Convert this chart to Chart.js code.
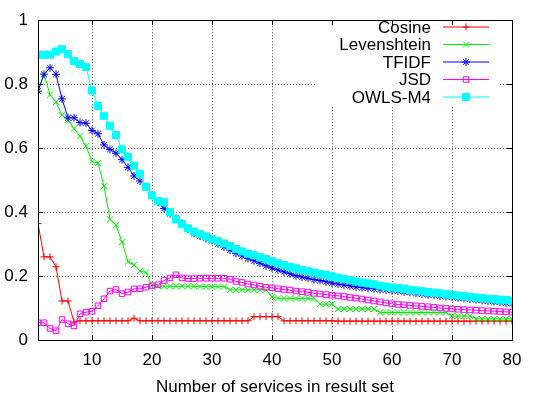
<!DOCTYPE html>
<html><head><meta charset="utf-8">
<script src="https://cdn.jsdelivr.net/npm/chart.js@4/dist/chart.umd.min.js"></script>
<style>html,body{margin:0;padding:0;background:#fff;overflow:hidden}</style>
</head><body>
<canvas id="c" width="537" height="398"></canvas>
<script>
// ---- data ----
const resultSetSizes = [1,2,3,4,5,6,7,8,9,10,11,12,13,14,15,16,17,18,19,20,
  21,22,23,24,25,26,27,28,29,30,31,32,33,34,35,36,37,38,39,40,
  41,42,43,44,45,46,47,48,49,50,51,52,53,54,55,56,57,58,59,60,
  61,62,63,64,65,66,67,68,69,70,71,72,73,74,75,76,77,78,79,80];

const cosine = [0.364,0.26,0.26,0.229,0.122,0.122,0.056,0.06,0.06,0.06,
  0.06,0.06,0.06,0.06,0.06,0.06,0.068,0.06,0.06,0.06,
  0.06,0.06,0.06,0.06,0.06,0.06,0.06,0.06,0.06,0.06,
  0.06,0.06,0.06,0.06,0.06,0.06,0.073,0.073,0.073,0.073,
  0.073,0.06,0.06,0.06,0.06,0.06,0.06,0.06,0.06,0.06,
  0.059,0.059,0.059,0.059,0.059,0.059,0.059,0.059,0.059,0.059,
  0.059,0.059,0.059,0.059,0.059,0.059,0.059,0.059,0.059,0.059,
  0.059,0.059,0.059,0.059,0.059,0.059,0.059,0.059,0.059,0.059];

const levenshtein = [0.78,0.831,0.767,0.744,0.703,0.688,0.661,0.637,0.606,0.558,
  0.553,0.481,0.377,0.359,0.307,0.245,0.235,0.216,0.211,0.17,
  0.168,0.168,0.168,0.168,0.168,0.168,0.168,0.167,0.167,0.167,
  0.167,0.167,0.157,0.157,0.157,0.157,0.157,0.157,0.157,0.135,
  0.13,0.13,0.13,0.13,0.13,0.13,0.13,0.112,0.112,0.112,
  0.097,0.097,0.097,0.097,0.097,0.097,0.097,0.086,0.086,0.086,
  0.086,0.086,0.086,0.086,0.086,0.086,0.086,0.086,0.086,0.075,
  0.075,0.075,0.075,0.066,0.066,0.066,0.066,0.066,0.066,0.066];

const tfidf = [0.778,0.831,0.851,0.831,0.754,0.695,0.695,0.68,0.678,0.655,
  0.645,0.61,0.596,0.584,0.564,0.54,0.513,0.497,0.479,0.454,
  0.431,0.411,0.395,0.38,0.365,0.347,0.333,0.325,0.318,0.311,
  0.301,0.291,0.281,0.271,0.263,0.255,0.248,0.24,0.232,0.225,
  0.219,0.213,0.207,0.201,0.197,0.193,0.189,0.186,0.182,0.178,
  0.175,0.172,0.169,0.166,0.164,0.162,0.16,0.158,0.157,0.155,
  0.153,0.151,0.149,0.146,0.144,0.142,0.14,0.138,0.136,0.134,
  0.132,0.13,0.128,0.126,0.124,0.122,0.12,0.118,0.116,0.114];

const jsd = [0.054,0.054,0.036,0.029,0.064,0.051,0.044,0.082,0.087,0.09,
  0.107,0.129,0.153,0.158,0.145,0.15,0.16,0.16,0.165,0.17,
  0.173,0.186,0.194,0.204,0.194,0.192,0.192,0.193,0.193,0.193,
  0.193,0.193,0.19,0.183,0.18,0.175,0.172,0.168,0.165,0.163,
  0.16,0.158,0.156,0.153,0.151,0.149,0.146,0.144,0.142,0.14,
  0.138,0.136,0.133,0.131,0.128,0.125,0.122,0.119,0.116,0.113,
  0.111,0.11,0.108,0.107,0.105,0.104,0.102,0.1,0.099,0.097,
  0.096,0.095,0.094,0.093,0.092,0.091,0.09,0.089,0.088,0.087];

const owlsM4 = [0.892,0.892,0.892,0.902,0.909,0.894,0.872,0.863,0.854,0.78,
  0.732,0.701,0.67,0.641,0.596,0.573,0.545,0.52,0.479,0.452,
  0.435,0.431,0.4,0.377,0.362,0.349,0.339,0.332,0.324,0.316,
  0.309,0.302,0.294,0.285,0.277,0.27,0.265,0.259,0.253,0.247,
  0.24,0.234,0.229,0.224,0.219,0.215,0.211,0.207,0.203,0.199,
  0.195,0.191,0.187,0.183,0.18,0.177,0.174,0.17,0.167,0.164,
  0.162,0.16,0.157,0.155,0.152,0.15,0.148,0.146,0.143,0.141,
  0.139,0.137,0.135,0.133,0.131,0.129,0.128,0.126,0.125,0.123];

const xTickValues = [10,20,30,40,50,60,70,80];
const yTickValues = [0,0.2,0.4,0.6,0.8,1];
const yTickLabels = ['0','0.2','0.4','0.6','0.8','1'];
const seriesNames = ['Cosine','Levenshtein','TFIDF','JSD','OWLS-M4'];
const xAxisTitle = 'Number of services in result set';

// ---- styles ----
const FONT = "'Liberation Sans', Arial, Helvetica, sans-serif";
Chart.defaults.font.family = FONT;
Chart.defaults.color = '#000';

const styles = [
  {color:'#ff0000', pointStyle:'cross',    radius:3.5, fill:'rgba(0,0,0,0)', order:5},
  {color:'#00ee00', pointStyle:'crossRot', radius:4.2, fill:'rgba(0,0,0,0)', order:4},
  {color:'#0000ff', pointStyle:'star',     radius:4,   fill:'rgba(0,0,0,0)', order:3},
  {color:'#ff00ff', pointStyle:'rect',     radius:3.9, fill:'rgba(0,0,0,0)', order:2},
  {color:'#00ffff', pointStyle:'rect',     radius:5,   fill:'#00ffff',       order:1}
];
const seriesValues = [cosine, levenshtein, tfidf, jsd, owlsM4];

const datasets = seriesValues.map((vals, i) => ({
  label: seriesNames[i],
  data: resultSetSizes.map((x, j) => ({x: x, y: vals[j]})),
  borderColor: styles[i].color,
  backgroundColor: styles[i].fill,
  pointBorderColor: styles[i].color,
  pointBackgroundColor: styles[i].fill,
  pointStyle: styles[i].pointStyle,
  pointRadius: styles[i].radius,
  pointBorderWidth: 1,
  borderWidth: 1,
  tension: 0,
  fill: false,
  order: styles[i].order
}));

const frame = {
  id: 'gnuplotFrame',
  beforeDatasetsDraw(chart) {
    const ctx = chart.ctx;
    ctx.save();
    ctx.fillStyle = '#fff';
    ctx.fillRect(317, 14.5, 183, 91);
    ctx.restore();
  },
  afterDatasetsDraw(chart) {
    const ctx = chart.ctx;
    const a = chart.chartArea;
    const xs = chart.scales.x, ys = chart.scales.y;
    ctx.save();
    ctx.strokeStyle = '#000';
    ctx.lineWidth = 1;
    ctx.beginPath();
    xTickValues.forEach(v => {
      const px = Math.round(xs.getPixelForValue(v)) + 0.5;
      ctx.moveTo(px, a.bottom); ctx.lineTo(px, a.bottom - 5);
      ctx.moveTo(px, a.top); ctx.lineTo(px, a.top + 5);
    });
    yTickValues.forEach(v => {
      const py = Math.round(ys.getPixelForValue(v)) + 0.5;
      ctx.moveTo(a.left, py); ctx.lineTo(a.left + 5, py);
      ctx.moveTo(a.right, py); ctx.lineTo(a.right - 5, py);
    });
    ctx.stroke();
    ctx.strokeRect(Math.round(a.left) + 0.5, Math.round(a.top) + 0.5,
                   Math.round(a.right) - Math.round(a.left), Math.round(a.bottom) - Math.round(a.top));
    ctx.font = '17px ' + FONT;
    ctx.textAlign = 'right';
    ctx.textBaseline = 'middle';
    chart.data.datasets.forEach((ds, i) => {
      const y = 27 + i * 17.5;
      ctx.fillStyle = '#000';
      ctx.fillText(ds.label, 431, y + 1);
      ctx.strokeStyle = ds.borderColor;
      ctx.lineWidth = 1;
      ctx.beginPath();
      ctx.moveTo(443, y); ctx.lineTo(489, y);
      ctx.stroke();
      ctx.fillStyle = ds.pointBackgroundColor;
      Chart.helpers.drawPoint(ctx, {pointStyle: ds.pointStyle, radius: ds.pointRadius, rotation: 0, borderWidth: 1}, 466, y);
    });
    ctx.restore();
  }
};

new Chart(document.getElementById('c'), {
  type: 'line',
  data: {datasets},
  options: {
    responsive: false,
    devicePixelRatio: 1,
    animation: false,
    layout: {padding: {left: 0, right: 25, top: 13, bottom: 0}},
    plugins: {legend: {display: false}, tooltip: {enabled: false}},
    scales: {
      x: {
        type: 'linear', min: 1, max: 80,
        afterBuildTicks: s => { s.ticks = xTickValues.map(v => ({value: v})); },
        afterFit: s => { s.height = 58; },
        ticks: {font: {size: 17}, color: '#000', padding: 10, maxRotation: 0, autoSkip: false},
        grid: {color: '#555', lineWidth: 1, drawTicks: false},
        border: {display: false, dash: [1, 2]},
        title: {display: true, text: xAxisTitle, font: {size: 17}, color: '#000', padding: {top: 0, bottom: 0}}
      },
      y: {
        type: 'linear', min: 0, max: 1,
        afterBuildTicks: s => { s.ticks = yTickValues.map(v => ({value: v})); },
        afterFit: s => { s.width = 38; },
        ticks: {font: {size: 17}, color: '#000', padding: 10,
                callback: (v, i) => yTickLabels[i]},
        grid: {color: '#555', lineWidth: 1, drawTicks: false},
        border: {display: false, dash: [1, 2]}
      }
    }
  },
  plugins: [frame]
});
</script>
</body></html>
